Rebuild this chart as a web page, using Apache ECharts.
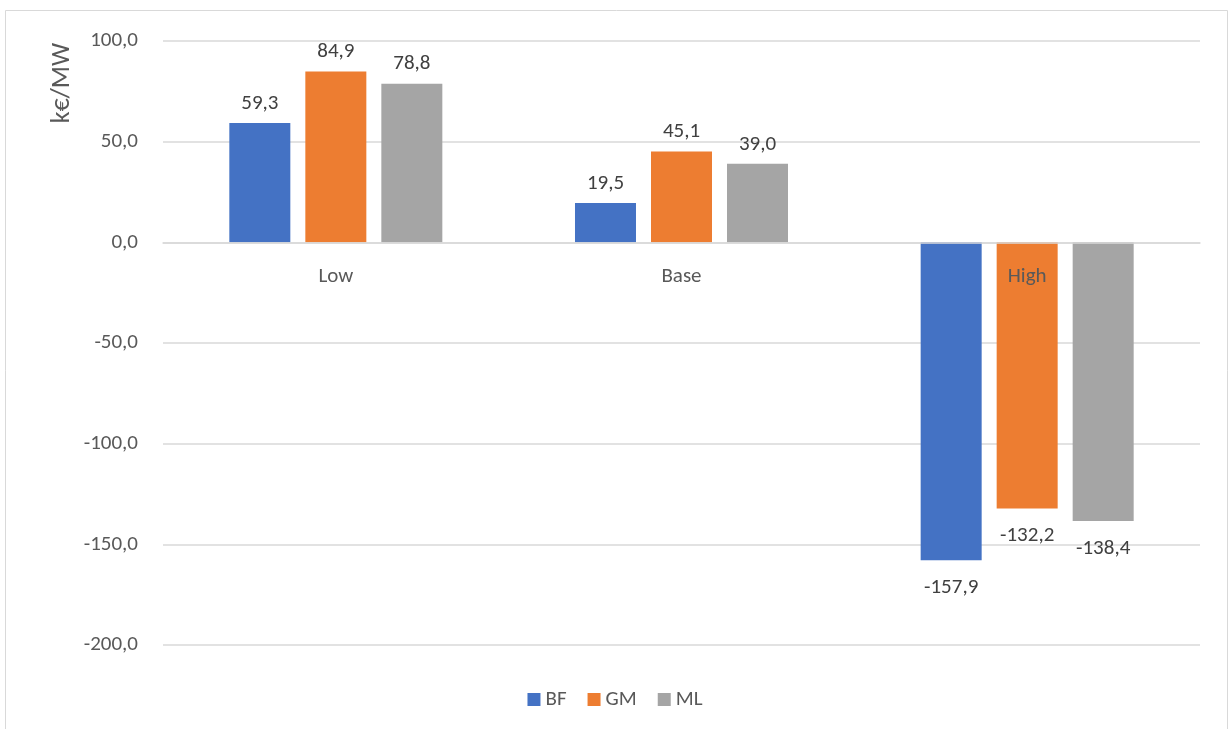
<!DOCTYPE html>
<html>
<head>
<meta charset="utf-8">
<script src="https://cdn.jsdelivr.net/npm/echarts@6/dist/echarts.min.js"></script>
<style>
  html, body { margin: 0; padding: 0; background: #fff; }
  #chart { width: 1230px; height: 729px; }
</style>
</head>
<body>
<div id="chart"></div>
<script>
const categories = ['Low', 'Base', 'High'];
const seriesNames = ['BF', 'GM', 'ML'];
const bfValues = [59.3, 19.5, -157.9];
const gmValues = [84.9, 45.1, -132.2];
const mlValues = [78.8, 39.0, -138.4];
const yTicks = { min: -200, max: 100, interval: 50 };
const axisTitle = 'k€/MW';

const FONT = 'Carlito, Lato, sans-serif';
const colors = ['#4472C4', '#ED7D31', '#A5A5A5'];
const fmt = v => v.toFixed(1).replace('.', ',');

const GRID = { left: 163, right: 30, top: 41, bottom: 84 };
const plotHeight = 729 - GRID.top - GRID.bottom;
// distance from the bottom edge of the plot up to the zero line
const zeroOffset = plotHeight * (0 - yTicks.min) / (yTicks.max - yTicks.min);

// Positive bars carry their value above, negative ones below
function barData(values) {
  return values.map(v => ({
    value: v,
    label: v >= 0
      ? { position: 'top', distance: 9 }
      : { position: 'bottom', distance: 17 }
  }));
}

function barSeries(name, values, color) {
  return {
    name: name,
    type: 'bar',
    data: barData(values),
    barWidth: 61,
    barGap: '24.6%',
    itemStyle: { color: color },
    label: {
      show: true,
      color: '#404040',
      fontFamily: FONT,
      fontSize: 21,
      formatter: p => fmt(p.value)
    }
  };
}

const chart = echarts.init(document.getElementById('chart'), null, { renderer: 'canvas' });
chart.setOption({
  animation: false,
  backgroundColor: '#ffffff',
  textStyle: { fontFamily: FONT },
  grid: { left: GRID.left, right: GRID.right, top: GRID.top, bottom: GRID.bottom, containLabel: false },
  graphic: [
    {
      type: 'rect',
      shape: { x: 5.5, y: 10.5, width: 1222, height: 740 },
      style: { fill: 'none', stroke: '#d9d9d9', lineWidth: 1 },
      silent: true
    },
    {
      type: 'text',
      x: 62, y: 83,
      rotation: Math.PI / 2,
      style: {
        text: axisTitle,
        fill: '#595959',
        fontFamily: FONT,
        fontSize: 26,
        align: 'center',
        verticalAlign: 'middle'
      }
    }
  ],
  legend: {
    data: seriesNames,
    bottom: 14,
    left: 'center',
    icon: 'rect',
    itemWidth: 13,
    itemHeight: 13,
    itemGap: 21,
    textStyle: { color: '#595959', fontFamily: FONT, fontSize: 21 }
  },
  xAxis: {
    type: 'category',
    data: categories,
    z: 10,
    position: 'bottom',
    offset: -zeroOffset,
    axisLine: { show: true, onZero: false, lineStyle: { color: '#d9d9d9', width: 1.5 } },
    axisTick: { show: false },
    axisLabel: { color: '#595959', fontFamily: FONT, fontSize: 21, margin: 24 }
  },
  yAxis: {
    type: 'value',
    min: yTicks.min,
    max: yTicks.max,
    interval: yTicks.interval,
    axisLine: { show: false },
    axisTick: { show: false },
    splitLine: { lineStyle: { color: '#d9d9d9', width: 1.5 } },
    axisLabel: {
      color: '#595959',
      fontFamily: FONT,
      fontSize: 21,
      margin: 25,
      formatter: v => fmt(v)
    }
  },
  series: [
    barSeries(seriesNames[0], bfValues, colors[0]),
    barSeries(seriesNames[1], gmValues, colors[1]),
    barSeries(seriesNames[2], mlValues, colors[2])
  ]
});
</script>
</body>
</html>
